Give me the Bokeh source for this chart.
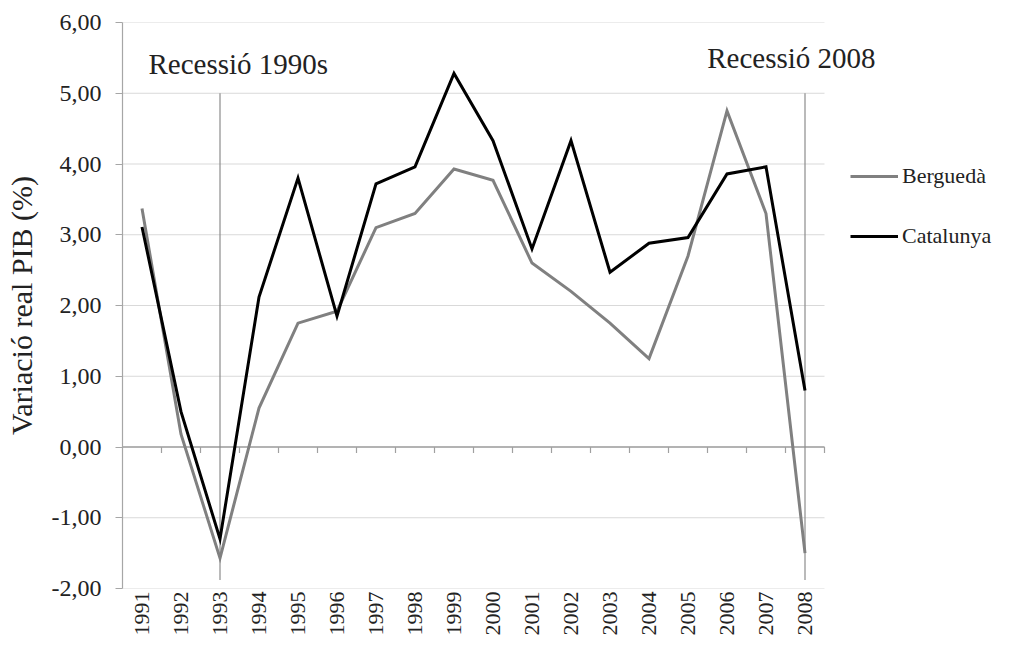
from bokeh.plotting import figure
from bokeh.models import Legend, LegendItem, Label, FixedTicker, Range1d
from bokeh.embed import file_html
from bokeh.resources import INLINE

years = ["1991", "1992", "1993", "1994", "1995", "1996", "1997", "1998", "1999",
         "2000", "2001", "2002", "2003", "2004", "2005", "2006", "2007", "2008"]
bergueda = [3.37, 0.18, -1.57, 0.55, 1.75, 1.92, 3.10, 3.30, 3.93,
            3.77, 2.60, 2.20, 1.75, 1.25, 2.70, 4.75, 3.30, -1.50]
catalunya = [3.11, 0.50, -1.30, 2.12, 3.80, 1.85, 3.72, 3.96, 5.28,
             4.33, 2.80, 4.33, 2.47, 2.88, 2.96, 3.86, 3.96, 0.80]
y_ticks = [-2, -1, 0, 1, 2, 3, 4, 5, 6]
y_tick_labels = ["-2,00", "-1,00", "0,00", "1,00", "2,00", "3,00", "4,00", "5,00", "6,00"]
recession_years = ["1993", "2008"]
recession_top = 5.0
recession_bottom = -1.88
series_names = ["Berguedà", "Catalunya"]
annotations = ["Recessió 1990s", "Recessió 2008"]

FONT = "Liberation Serif"
x = list(range(len(years)))
x_lo, x_hi = -0.5, len(years) - 0.5

W, H = 993, 638
LEFT, TOP = 122, 22
unit = 39.0  # pixels per category
p = figure(width=W, height=H,
           x_range=Range1d(x_lo, x_lo + (W - LEFT) / unit), y_range=Range1d(y_ticks[0], y_ticks[-1]),
           output_backend="svg", toolbar_location=None,
           min_border_left=LEFT, min_border_right=0, min_border_top=TOP, min_border_bottom=40)
p.outline_line_color = None
p.background_fill_color = "white"
p.grid.grid_line_color = None

# horizontal gridlines limited to category span
p.segment(x0=[x_lo] * len(y_ticks), y0=y_ticks, x1=[x_hi] * len(y_ticks), y1=y_ticks,
          line_color="#d9d9d9", line_width=1.2)

# y axis
p.yaxis.ticker = FixedTicker(ticks=y_ticks)
p.yaxis.major_label_overrides = {t: l for t, l in zip(y_ticks, y_tick_labels)}
p.yaxis.axis_line_color = "#a6a6a6"
p.yaxis.axis_line_width = 1.2
p.yaxis.major_tick_line_color = "#a6a6a6"
p.yaxis.major_tick_out = 7
p.yaxis.major_tick_in = 0
p.yaxis.minor_tick_line_color = None
p.yaxis.major_label_text_font = FONT
p.yaxis.major_label_text_font_size = "24px"
p.yaxis.major_label_text_color = "#222222"
p.yaxis.major_label_standoff = 14
p.yaxis.axis_label = "Variació real PIB (%)"
p.yaxis.axis_label_text_font = FONT
p.yaxis.axis_label_text_font_size = "30px"
p.yaxis.axis_label_text_font_style = "normal"
p.yaxis.axis_label_text_color = "#222222"
p.yaxis.axis_label_standoff = 11

# x axis: labels only at bottom
p.xaxis.ticker = FixedTicker(ticks=x)
p.xaxis.major_label_overrides = {i: y for i, y in zip(x, years)}
p.xaxis.axis_line_color = None
p.xaxis.major_tick_line_color = None
p.xaxis.major_tick_out = 0
p.xaxis.major_tick_in = 0
p.xaxis.minor_tick_line_color = None
p.xaxis.minor_tick_out = 0
p.xaxis.axis_label_standoff = 0
p.xaxis.major_label_orientation = 1.5707963
p.xaxis.major_label_text_font = FONT
p.xaxis.major_label_text_font_size = "22px"
p.xaxis.major_label_text_color = "#222222"
p.xaxis.major_label_standoff = 3

# zero axis line with category boundary ticks
p.segment(x0=[x_lo], y0=[0], x1=[x_hi], y1=[0], line_color="#a0a0a0", line_width=1.5)
bx = [i + 0.5 for i in x]
p.segment(x0=bx, y0=[0] * len(bx), x1=bx, y1=[-0.085] * len(bx), line_color="#a0a0a0", line_width=1.2)

# recession markers
rx = [years.index(y) for y in recession_years]
p.segment(x0=rx, y0=[recession_top] * len(rx), x1=rx, y1=[recession_bottom] * len(rx),
          line_color="#8c8c8c", line_width=1.2)

r_b = p.line(x, bergueda, line_color="#808080", line_width=3, line_join="miter")
r_c = p.line(x, catalunya, line_color="#000000", line_width=3, line_join="miter")

p.add_layout(Label(x=2.47, y=5.42, text=annotations[0], text_align="center", text_baseline="middle",
                   text_font=FONT, text_font_size="29px", text_color="#222222"))
p.add_layout(Label(x=16.65, y=5.50, text=annotations[1], text_align="center", text_baseline="middle",
                   text_font=FONT, text_font_size="29px", text_color="#222222"))

legend = Legend(items=[LegendItem(label=series_names[0], renderers=[r_b]),
                       LegendItem(label=series_names[1], renderers=[r_c])],
                location=(728, 339), orientation="vertical",
                glyph_width=48, glyph_height=24, label_height=24, spacing=34,
                padding=0, margin=0, border_line_color=None, background_fill_alpha=0,
                label_text_font=FONT, label_text_font_size="22px", label_text_color="#222222",
                label_standoff=4)
p.add_layout(legend, "center")

open("out.html", "w").write(file_html(p, INLINE))
